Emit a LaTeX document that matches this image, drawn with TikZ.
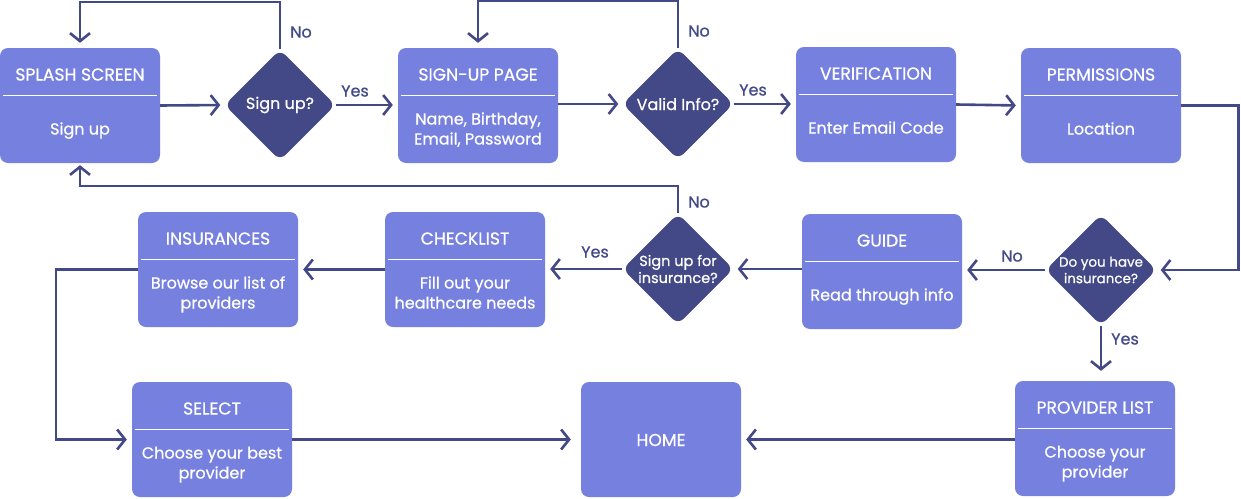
\documentclass[tikz,border=0pt]{standalone}
\usepackage{fontspec}
\setmainfont[FakeBold=0.7]{Poppins}
\usetikzlibrary{arrows.meta,shapes.geometric,calc}
\definecolor{boxblue}{HTML}{7680DF}
\definecolor{navy}{HTML}{434886}
\tikzset{
  boxst/.style={rectangle, rounded corners=8pt, fill=boxblue, minimum width=160pt, minimum height=115pt, inner sep=0pt},
  titlest/.style={text=white, font=\fontsize{17.2}{18}\selectfont, inner sep=0pt, anchor=base},
  bodyst/.style={text=white, font=\fontsize{16}{20}\selectfont, inner sep=0pt, anchor=base},
  divst/.style={draw=white, line width=1.2pt},
  decst/.style={diamond, aspect=1, fill=navy, rounded corners=8pt, minimum width=111pt, minimum height=111pt, inner sep=0pt, text=white, align=center},
  arr/.style={draw=navy, line width=2.6pt, -{Straight Barb[length=8pt,width=20pt,line width=2.6pt]}, shorten >=5pt},
  lbl/.style={text=navy, font=\fontsize{16}{18}\selectfont, inner sep=0pt},
}
\newcommand\flowboxbase[4]{%
  \node[boxst] (#1) at (#2+80,#3+57.5) {};
  \node[titlest] (#1t) at (#2+80,#3+32.5) {#4};
  \draw[divst] ([xshift=3pt,yshift=-48pt]#1.north west) -- ([xshift=-3pt,yshift=-48pt]#1.north east);
}
\newcommand\flowboxa[5]{%
  \flowboxbase{#1}{#2}{#3}{#4}
  \node[bodyst] (#1b) at (#2+80,#3+86.5) {#5};
}
\newcommand\flowboxb[6]{%
  \flowboxbase{#1}{#2}{#3}{#4}
  \node[bodyst] (#1b) at (#2+80,#3+76.5) {#5};
  \node[bodyst] (#1c) at (#2+80,#3+96.5) {#6};
}
\begin{document}
\begin{tikzpicture}[x=1pt,y=-1pt]
\useasboundingbox (0,0) rectangle (1241,498);
\fill[white] (0,0) rectangle (1241,498);

\flowboxa{splash}{0}{48}{SPLASH SCREEN}{Sign up}
\flowboxb{signup}{398}{48}{SIGN-UP PAGE}{Name, Birthday,}{Email, Password}
\flowboxa{verif}{796}{47}{VERIFICATION}{Enter Email Code}
\flowboxa{perm}{1021}{48}{PERMISSIONS}{Location}
\flowboxa{guide}{802}{214}{GUIDE}{Read through info}
\flowboxb{check}{385}{212}{CHECKLIST}{Fill out your}{healthcare needs}
\flowboxb{insur}{138}{212}{INSURANCES}{Browse our list of}{providers}
\flowboxb{select}{132}{382}{SELECT}{Choose your best}{provider}
\flowboxb{prov}{1015}{381}{PROVIDER LIST}{Choose your}{provider}
\node[boxst] (home) at (661,439.5) {};
\node[titlest] (homet) at (661,446) {HOME};

\node[decst, font=\fontsize{16}{18}\selectfont] (d1) at (280,105) {\raisebox{-2pt}{Sign up?}};
\node[decst, font=\fontsize{16}{18}\selectfont] (d2) at (678,104) {\raisebox{-1pt}{Valid Info?}};
\node[decst, font=\fontsize{13.5}{16.5}\selectfont] (d3) at (1101,270) {Do you have\\insurance?};
\node[decst, font=\fontsize{14.5}{17}\selectfont] (d4) at (678,269) {Sign up for\\insurance?};

\draw[arr, shorten >=4pt] (splash.east) -- (d1.west);
\draw[arr] (d1.east) -- (signup.west |- d1.east);
\draw[arr] (d1.north) -- ++(0,-47.5) -| (splash.north);
\draw[arr, shorten >=4pt] (signup.east |- d2.west) -- (d2.west);
\draw[arr] (d2.north) -- ++(0,-47.5) -| (signup.north);
\draw[arr] (d2.east) -- (verif.west |- d2.east);
\draw[arr] (verif.east) -- (perm.west);
\draw[arr, shorten >=4pt] (perm.east) -- ++(57,0) |- (d3.east);
\draw[arr] (d3.west) -- (guide.east |- d3.west);
\draw[arr, shorten >=4pt] (guide.west |- d4.east) -- (d4.east);
\draw[arr] (d4.west) -- (check.east |- d4.west);
\draw[arr, shorten >=2pt] (d4.north) -- ++(0,-27.5) -| (splash.south);
\draw[arr] (check.west) -- (insur.east);
\draw[arr] (insur.west) -- ++(-82,0) |- (select.west);
\draw[arr, shorten >=10pt] (select.east) -- (home.west);
\draw[arr] (prov.west |- home.east) -- (home.east);
\draw[arr, shorten >=10pt] (d3.south) -- (d3.south |- prov.north);

\node[lbl] (l1) at (301,32) {No};
\node[lbl] (l2) at (355,91) {Yes};
\node[lbl] (l3) at (699,31) {No};
\node[lbl] (l4) at (753,90) {Yes};
\node[lbl] (l5) at (1012,256) {No};
\node[lbl] (l6) at (1125,339) {Yes};
\node[lbl] (l7) at (699,202) {No};
\node[lbl] (l8) at (595,252) {Yes};
\end{tikzpicture}
\end{document}
